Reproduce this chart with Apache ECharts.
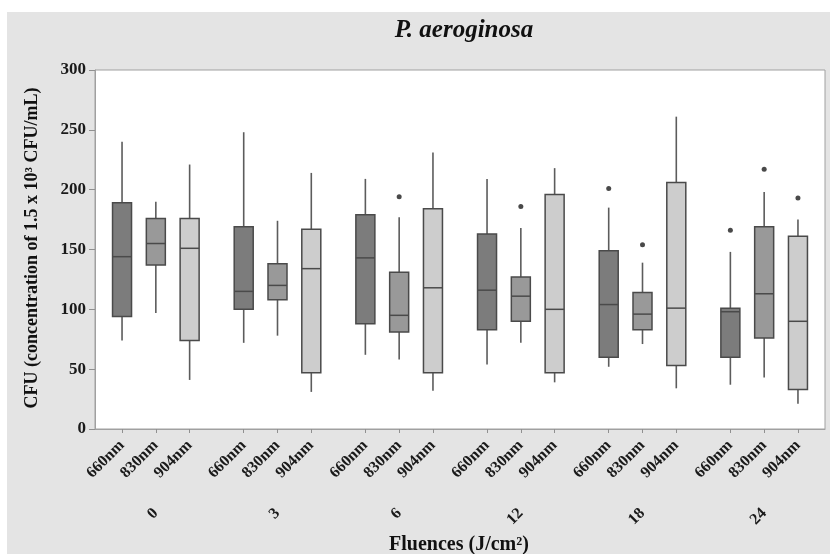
<!DOCTYPE html>
<html>
<head>
<meta charset="utf-8">
<script src="https://cdn.jsdelivr.net/npm/echarts@6/dist/echarts.min.js"></script>
<style>
  html, body { margin: 0; padding: 0; background: #ffffff; }
  #bg { position: absolute; left: 7px; top: 12px; width: 823px; height: 542px; background: #e4e4e4; }
  #chart { position: absolute; left: 0; top: 0; width: 830px; height: 554px; }
</style>
</head>
<body>
<div id="bg"></div>
<div id="chart"></div>
<script>
// ---- data ----
const groups = ['0', '3', '6', '12', '18', '24'];          // fluences (J/cm²)
const wavelengths = ['660nm', '830nm', '904nm'];
// each row: [min, Q1, median, Q3, max] for fluence groups 0,3,6,12,18,24
const stats660 = [
  [74, 94, 144, 189, 240],
  [72, 100, 115, 169, 248],
  [62, 88, 143, 179, 209],
  [54, 83, 116, 163, 209],
  [52, 60, 104, 149, 185],
  [37, 60, 98, 101, 148]
];
const stats830 = [
  [97, 137, 155, 176, 190],
  [78, 108, 120, 138, 174],
  [58, 81, 95, 131, 177],
  [72, 90, 111, 127, 168],
  [71, 83, 96, 114, 139],
  [43, 76, 113, 169, 198]
];
const stats904 = [
  [41, 74, 151, 176, 221],
  [31, 47, 134, 167, 214],
  [32, 47, 118, 184, 231],
  [39, 47, 100, 196, 218],
  [34, 53, 101, 206, 261],
  [21, 33, 90, 161, 175]
];
// outliers: [groupIndex, value]
const outliers660 = [[4, 201], [5, 166]];
const outliers830 = [[2, 194], [3, 186], [4, 154], [5, 217]];
const outliers904 = [[5, 193]];

// ---- layout constants ----
const SLOT_FIRST = 4, GROUP_STEP = 18, BOX_STEP = 5, SLOT_COUNT = 109;
const slotOf = (g, w) => SLOT_FIRST + GROUP_STEP * g + BOX_STEP * w;
const slotLabels = new Array(SLOT_COUNT).fill('');
groups.forEach((g, gi) => wavelengths.forEach((w, wi) => { slotLabels[slotOf(gi, wi)] = w; }));

const allStats = [stats660, stats830, stats904];
const allOutliers = [outliers660, outliers830, outliers904];
const boxColors = ['#7c7c7c', '#999999', '#cdcdcd'];
const SERIF = '"Liberation Serif", "DejaVu Serif", serif';
const BOX_W = 19;

function renderBox(params, api) {
  const x = api.value(0);
  const pMin = api.coord([x, api.value(1)]);
  const pQ1 = api.coord([x, api.value(2)]);
  const pMed = api.coord([x, api.value(3)]);
  const pQ3 = api.coord([x, api.value(4)]);
  const pMax = api.coord([x, api.value(5)]);
  const cx = pMed[0];
  const hw = BOX_W / 2;
  const fill = api.visual('color');
  const stroke = '#4a4a4a';
  return {
    type: 'group',
    children: [
      { type: 'line', shape: { x1: cx, y1: pQ3[1], x2: cx, y2: pMax[1] }, style: { stroke: '#5c5c5c', lineWidth: 1.6 } },
      { type: 'line', shape: { x1: cx, y1: pQ1[1], x2: cx, y2: pMin[1] }, style: { stroke: '#5c5c5c', lineWidth: 1.6 } },
      { type: 'rect', shape: { x: cx - hw, y: pQ3[1], width: BOX_W, height: pQ1[1] - pQ3[1] }, style: { fill: fill, stroke: stroke, lineWidth: 1.5 } },
      { type: 'line', shape: { x1: cx - hw, y1: pMed[1], x2: cx + hw, y2: pMed[1] }, style: { stroke: stroke, lineWidth: 1.5 } }
    ]
  };
}

const series = [];
wavelengths.forEach((w, wi) => {
  series.push({
    name: w,
    type: 'custom',
    renderItem: renderBox,
    itemStyle: { color: boxColors[wi] },
    encode: { x: 0, y: [1, 2, 3, 4, 5] },
    data: allStats[wi].map((s, gi) => [slotOf(gi, wi)].concat(s)),
    z: 3
  });
  series.push({
    name: w + ' outliers',
    type: 'scatter',
    symbol: 'circle',
    symbolSize: 5,
    itemStyle: { color: '#1c1c1c' },
    data: allOutliers[wi].map(o => [slotOf(o[0], wi), o[1]]),
    z: 4
  });
});

const chart = echarts.init(document.getElementById('chart'), null, { renderer: 'canvas' });
const showSlot = (i, v) => v !== '';
chart.setOption({
  animation: false,
  backgroundColor: 'transparent',
  grid: { left: 95, right: 5, top: 70, bottom: 125, show: true, backgroundColor: '#ffffff', borderColor: '#a0a0a0', borderWidth: 1 },
  xAxis: [
    {
      type: 'category',
      data: slotLabels,
      boundaryGap: false,
      axisLine: { lineStyle: { color: '#a0a0a0', width: 1 } },
      axisTick: { show: true, interval: showSlot, length: 4, lineStyle: { color: '#909090' } },
      axisLabel: { interval: showSlot, rotate: 45, margin: 14, color: '#1a1a1a', fontFamily: SERIF, fontWeight: 'bold', fontSize: 16 },
      splitLine: { show: false }
    },
    {
      type: 'category',
      data: groups,
      position: 'bottom',
      boundaryGap: true,
      axisLine: { show: false },
      axisTick: { show: false },
      axisLabel: { rotate: 45, margin: 82, color: '#1a1a1a', fontFamily: SERIF, fontWeight: 'bold', fontSize: 16 },
      splitLine: { show: false }
    }
  ],
  yAxis: {
    type: 'value',
    min: 0, max: 300, interval: 50,
    axisLine: { show: true, lineStyle: { color: '#a0a0a0' } },
    axisTick: { show: true, length: 6, lineStyle: { color: '#909090' } },
    axisLabel: { margin: 9, color: '#1a1a1a', fontFamily: SERIF, fontWeight: 'bold', fontSize: 17 },
    splitLine: { show: false }
  },
  graphic: [
    { type: 'text', x: 464, y: 31, style: { text: 'P. aeroginosa', font: 'italic bold 25px ' + SERIF, fill: '#111', textAlign: 'center', align: 'center', textVerticalAlign: 'middle', verticalAlign: 'middle' } },
    { type: 'text', x: 32, y: 248, rotation: Math.PI / 2, style: { text: 'CFU (concentration of 1.5 x 10³ CFU/mL)', font: 'bold 18px ' + SERIF, fill: '#111', textAlign: 'center', align: 'center', textVerticalAlign: 'middle', verticalAlign: 'middle' } },
    { type: 'text', x: 459, y: 545, style: { text: 'Fluences (J/cm²)', font: 'bold 20px ' + SERIF, fill: '#111', textAlign: 'center', align: 'center', textVerticalAlign: 'middle', verticalAlign: 'middle' } }
  ],
  series: series
});
</script>
</body>
</html>
